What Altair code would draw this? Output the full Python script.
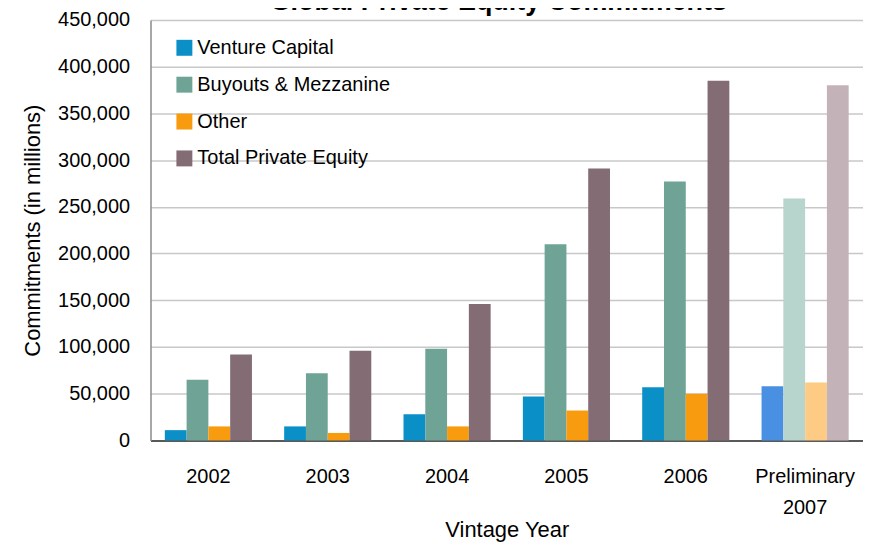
import altair as alt
import pandas as pd

years = ["2002", "2003", "2004", "2005", "2006", "Preliminary 2007"]
series = ["Venture Capital", "Buyouts & Mezzanine", "Other", "Total Private Equity"]
venture = [11000, 15000, 28000, 47000, 57000, 58000]
buyouts = [65000, 72000, 98000, 210000, 277000, 259000]
other = [15000, 8000, 15000, 32000, 50000, 62000]
total = [92000, 96000, 146000, 291000, 385000, 380000]
colors = ["#0A8FC7", "#6EA396", "#F89B0F", "#836C74"]
prelim_colors = ["#4A90E2", "#B7D4CD", "#FECB85", "#C3B3B9"]
prelim_year = "Preliminary 2007"
chart_title = "Global Private Equity Commitments"

values = [venture, buyouts, other, total]
rows = []
for i, yr in enumerate(years):
    for j, s in enumerate(series):
        key = s if yr != prelim_year else s + " (preliminary)"
        rows.append({"year": yr, "series": s, "value": values[j][i], "key": key, "order": j})
df = pd.DataFrame(rows)

domain = series + [s + " (preliminary)" for s in series]
rng = colors + prelim_colors

FONT = "Liberation Sans"

bars = alt.Chart(df).mark_bar().encode(
    x=alt.X("year:N", sort=years,
            scale=alt.Scale(paddingInner=0.27, paddingOuter=0.12),
            axis=alt.Axis(title="Vintage Year", labelAngle=0, ticks=False,
                          labelPadding=26, labelFontSize=20, labelLineHeight=31,
                          labelExpr="datum.label == 'Preliminary 2007' ? ['Preliminary', '2007'] : datum.label",
                          titleFontSize=22, titleFontWeight="normal",
                          titleY=89, titleBaseline="middle",
                          domainColor="#595959", domainWidth=2, grid=False)),
    xOffset=alt.XOffset("series:N", sort=series, scale=alt.Scale(paddingInner=0, paddingOuter=0)),
    y=alt.Y("value:Q", scale=alt.Scale(domain=[0, 450000], nice=False),
            axis=alt.Axis(title="Commitments (in millions)", values=list(range(0, 450001, 50000)),
                          format=",d", ticks=False, labelPadding=21, labelFontSize=20,
                          titleFontSize=22, titleFontWeight="normal",
                          titleX=-118, titleY=211, titleBaseline="middle",
                          domainColor="#8A8A8A", domainWidth=1.5,
                          gridColor="#C8C8C8", gridWidth=1.5)),
    color=alt.Color("key:N", scale=alt.Scale(domain=domain, range=rng),
                    legend=alt.Legend(values=series, title=None, orient="none",
                                      legendX=24, legendY=18, symbolType="square",
                                      symbolSize=256, symbolStrokeWidth=0,
                                      labelFontSize=20, labelOffset=3, rowPadding=17,
                                      labelLimit=400)),
)

title_df = pd.DataFrame({"t": [chart_title]})
title_mark = alt.Chart(title_df).mark_text(
    font=FONT, fontSize=27, fontWeight="bold", align="center", baseline="alphabetic", color="#000000"
).encode(text="t:N", x=alt.value(349), y=alt.value(-10))

chart = alt.layer(bars, title_mark).properties(
    width=715, height=422,
    padding={"left": 143, "top": 11, "right": 0, "bottom": 104},
    autosize=alt.AutoSizeParams(type="none"),
).configure(font=FONT).configure_view(stroke=None).configure_axis(
    labelFont=FONT, titleFont=FONT, labelColor="#000000", titleColor="#000000"
).configure_legend(labelFont=FONT, labelColor="#000000")

chart.save("out.html", embed_options={"renderer": "svg", "actions": False})
